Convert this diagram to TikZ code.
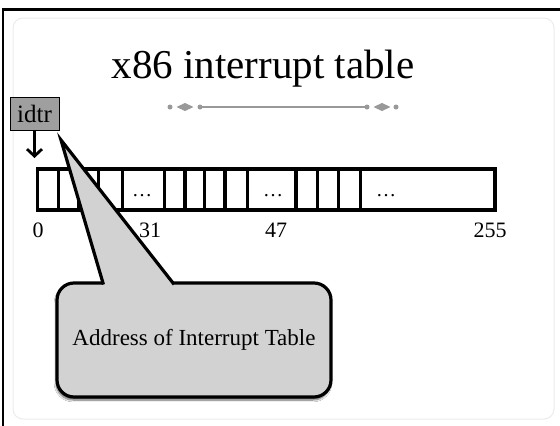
\documentclass[tikz,border=0pt]{standalone}
\usepackage{amsmath}
\usepackage{fontspec}
\setmainfont{Liberation Serif}
\usetikzlibrary{arrows.meta,calc,shadows.blur}

\begin{document}
\begin{tikzpicture}[x=1pt,y=-1pt,
    thick line/.style={line width=3.1pt},
    regbox/.style={draw,line width=0.8pt,fill=gray!75,minimum width=49pt,minimum height=33pt,inner sep=0pt},
    ptr/.style={line width=2.8pt,-{Straight Barb[length=7pt,width=15pt]}},
    balloon/.style={draw,line width=3.2pt,fill=gray!35,rounded corners=17pt,
        minimum width=274pt,minimum height=114pt,inner sep=0pt,
        blur shadow={shadow xshift=-1pt,shadow yshift=-3pt,shadow blur steps=8,shadow opacity=60}},
    orn/.style={fill=black!40}]
    \useasboundingbox (0,0) rectangle (560,426);
    \fill[white] (0,0) rectangle (560,426);
    \draw[gray!15,line width=1pt,rounded corners=10pt] (13,18) rectangle (554,419);
    \draw[line width=2.5pt] (3,426) -- (3,9.25) -- (560,9.25);

    \node[anchor=base] (title) at (263,78) {\fontsize{41}{45}\selectfont x86 interrupt table};
    \draw[black!40,line width=1.5pt] (200,107) -- (367,107);
    \foreach \x in {170,200,367,396} \fill[orn] (\x,107) circle (2.5pt);
    \foreach \x in {185,382} \fill[orn] (\x-8.5,107) -- (\x,103) -- (\x+8.5,107) -- (\x,111) -- cycle;

    \node[draw,thick line,minimum width=457.3pt,minimum height=41pt,inner sep=0pt] (idt) at (266.35,189.5) {};
    \foreach \x in {58.3,78.3,98.3,122.3,164.3,185,204.3,225,247.7,296,317.7,338.3,360.7}
        \draw[thick line] (\x,0 |- idt.north) -- (\x,0 |- idt.south);
    \foreach \x [count=\i] in {142,273,386}
        \node[anchor=base] (gap\i) at (\x,196) {\fontsize{20}{24}\selectfont\dots};
    \foreach \n/\x in {0/38,31/150,47/276,255/490}
        \node[anchor=base] (vec\n) at (\x,237) {\fontsize{22}{26}\selectfont \n};

    \node[regbox] (idtr) at (34.5,113.5) {\fontsize{25}{30}\selectfont idtr};
    \coordinate (entry) at (34.5,158);
    \draw[ptr] (idtr.south) -- (entry);

    \node[balloon] (addr) at (194,340) {\fontsize{23}{28}\selectfont Address of Interrupt Table};
    \coordinate (hook) at (61,140);
    \fill[gray!35] (hook) -- ($(hook)!1.02!(103,283)$) -- ($(hook)!1.02!(173,283)$) -- cycle;
    \draw[line width=3.2pt] ($(hook)!1.01!(103,283)$) -- (hook) -- ($(hook)!1.01!(173,283)$);
\end{tikzpicture}
\end{document}
